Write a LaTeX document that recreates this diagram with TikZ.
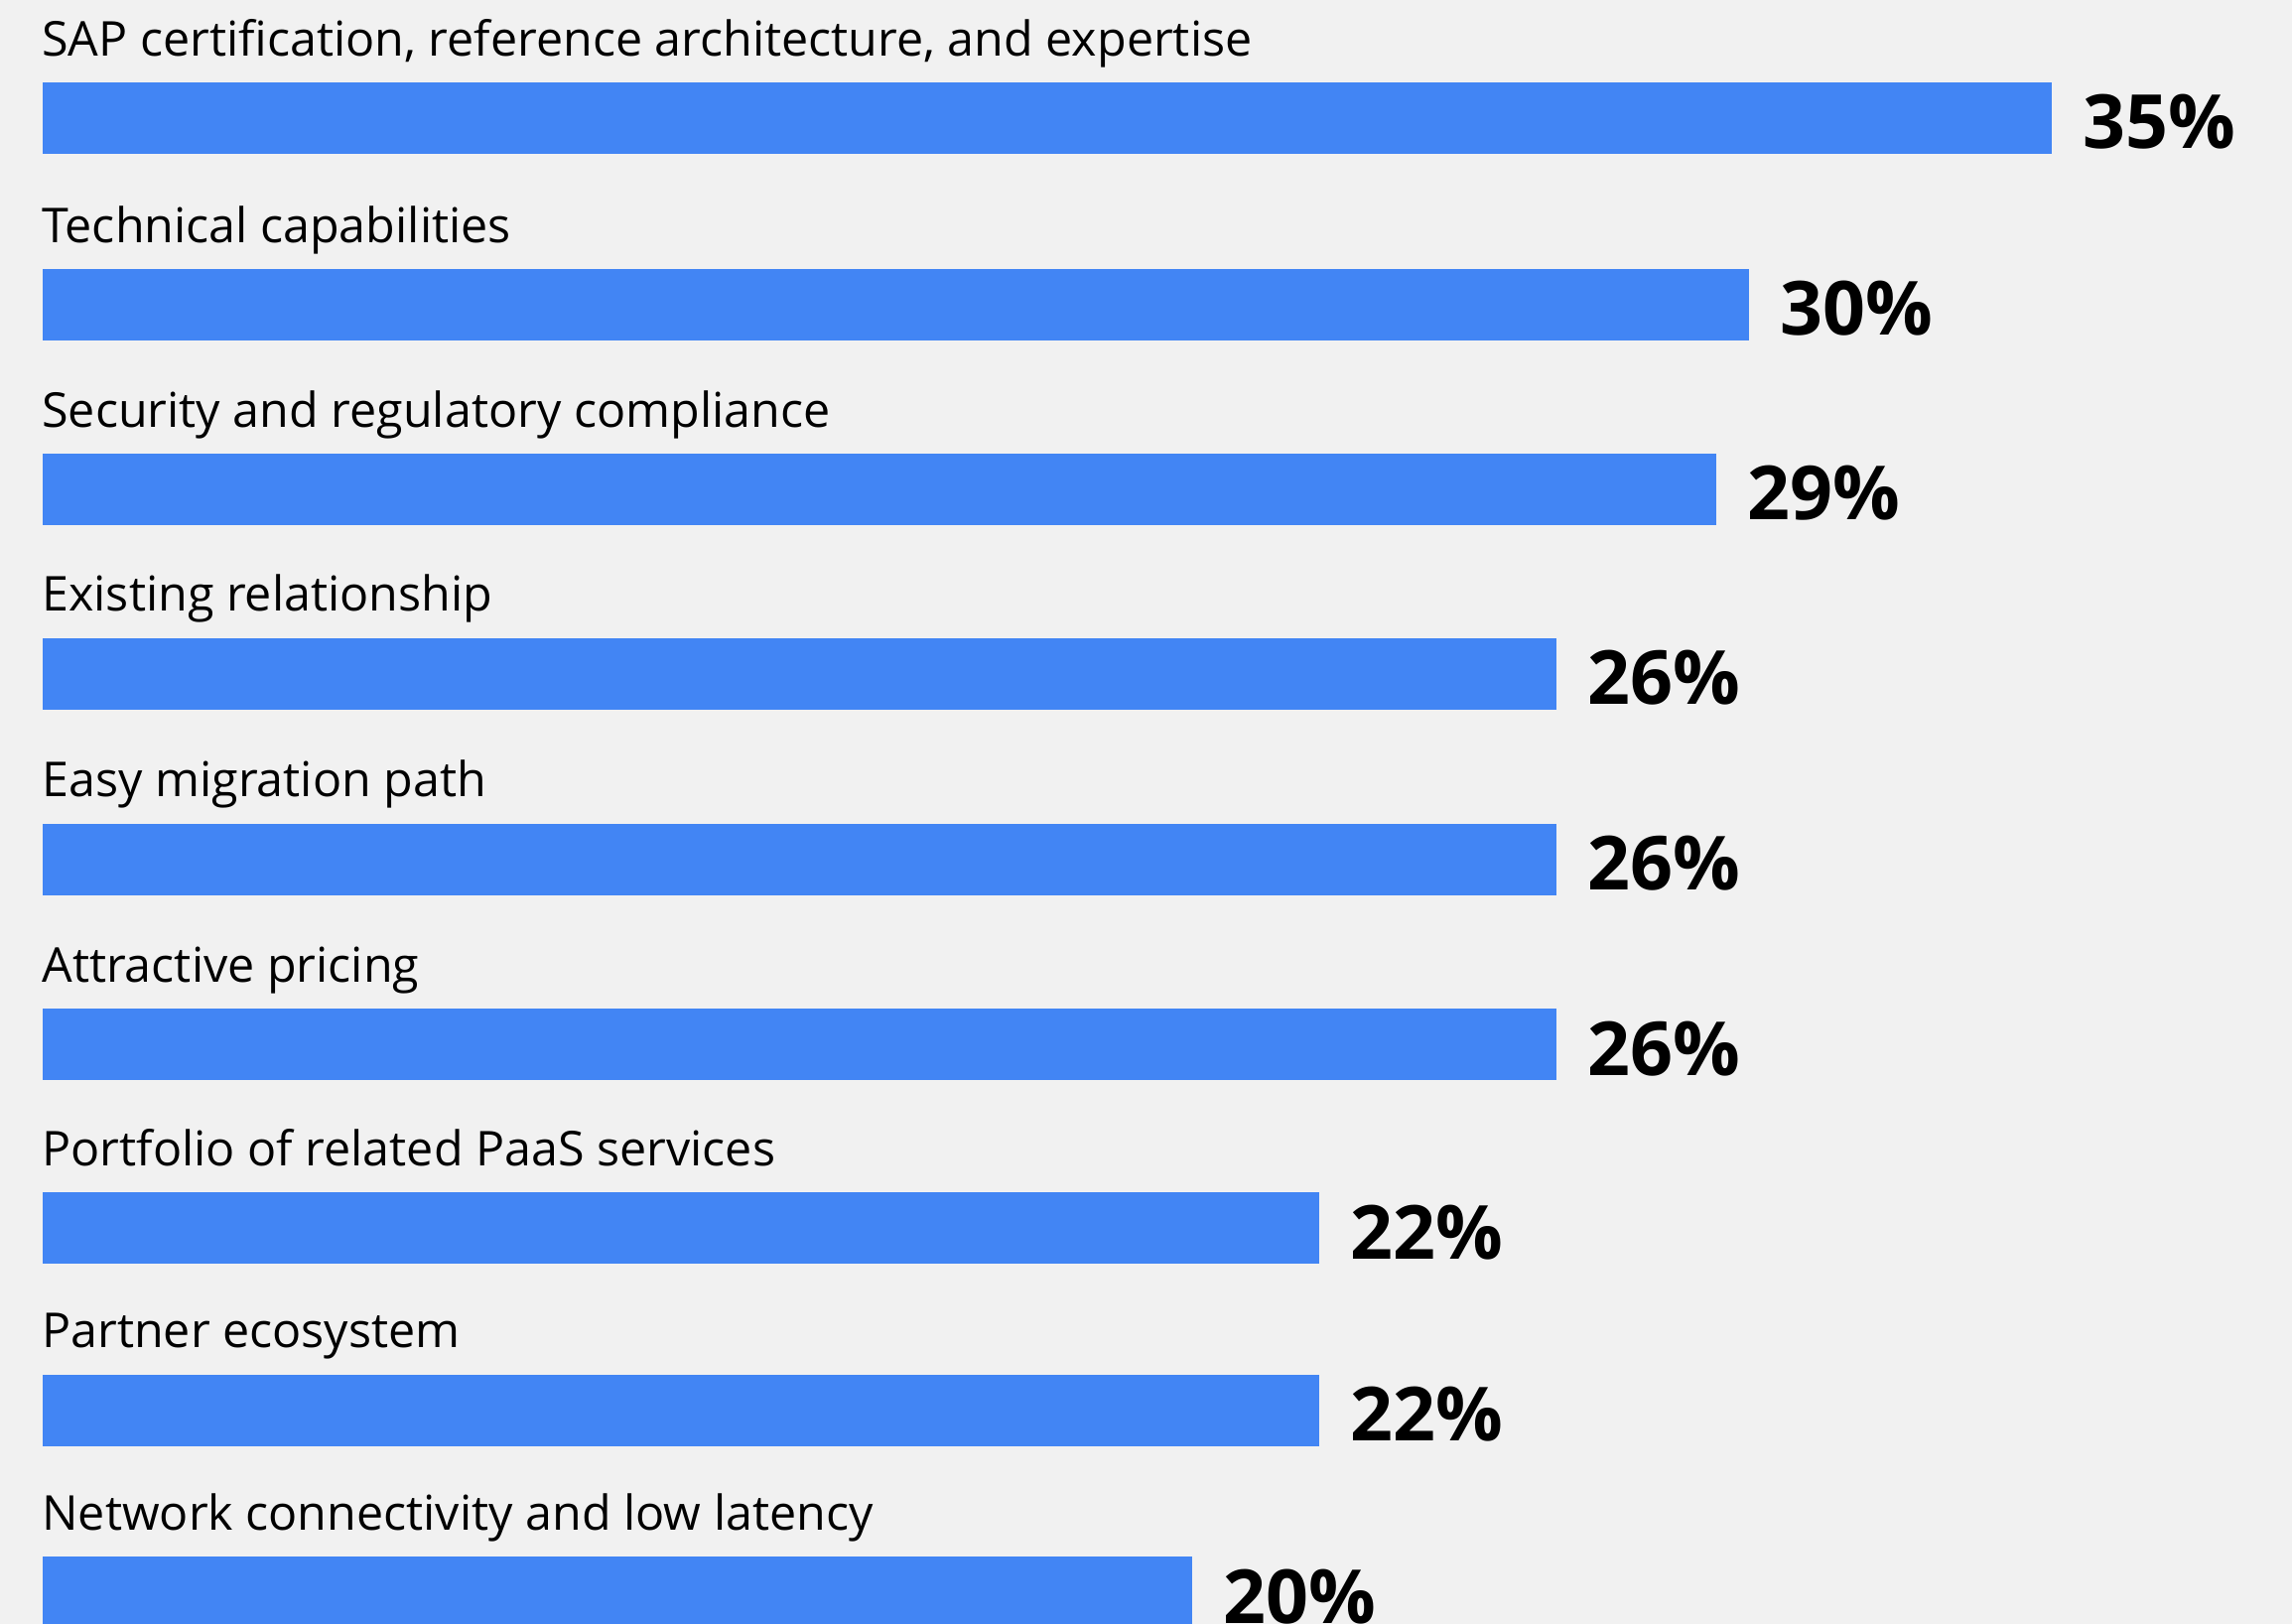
\documentclass[tikz,border=0pt]{standalone}
\usepackage{fontspec}
\setmainfont{Open Sans}
\definecolor{bg}{HTML}{F1F1F1}
\definecolor{barblue}{HTML}{4285F4}
\begin{document}
\begin{tikzpicture}[x=0.5pt,y=-0.5pt,
  bar/.style={fill=barblue,draw=none},
  lbl/.style={anchor=base west,inner sep=0pt,font=\fontsize{24.2}{29}\selectfont,text=black},
  pct/.style={anchor=base west,inner sep=0pt,font=\fontsize{37.6}{45}\selectfont\bfseries,text=black}]
\useasboundingbox[fill=bg] (0,0) rectangle (2309,1636);
% bars: left edge 43, height 72
\newcommand\drawbar[5]{%
  \fill[bar] (43,#2) rectangle (#3,#2+72);
  \node[lbl] (l#1) at (42,#2-27) {#4};
  \node[pct] (p#1) at (#3+31,#2+66.7) {#5};
}
\drawbar{1}{83.3}{2067}{SAP certification, reference architecture, and expertise}{35\%}
\drawbar{2}{271.3}{1762}{Technical capabilities}{30\%}
\drawbar{3}{457.3}{1729}{Security and regulatory compliance}{29\%}
\drawbar{4}{643}{1568.3}{Existing relationship}{26\%}
\drawbar{5}{830}{1568.3}{Easy migration path}{26\%}
\drawbar{6}{1016.3}{1568.3}{Attractive pricing}{26\%}
\drawbar{7}{1201.3}{1329.3}{Portfolio of related PaaS services}{22\%}
\drawbar{8}{1384.7}{1329.3}{Partner ecosystem}{22\%}
\drawbar{9}{1568.3}{1201}{Network connectivity and low latency}{20\%}
\end{tikzpicture}
\end{document}
